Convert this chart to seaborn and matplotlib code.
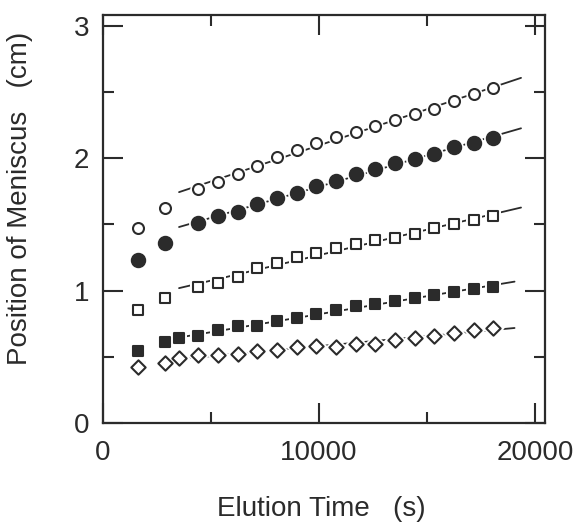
import numpy as np
import pandas as pd
import matplotlib
matplotlib.use("Agg")
import matplotlib.pyplot as plt
from matplotlib.ticker import MultipleLocator
import seaborn as sns

# Elution times (s)
t_early = [1620, 2870]
t_mid = [3520]
t_regular = [4420, 5330, 6240, 7150, 8060, 8970, 9880, 10790,
             11700, 12610, 13520, 14430, 15340, 16250, 17160, 18070]

# Meniscus position (cm) for each run
open_circle = [1.47, 1.62, 1.77, 1.82, 1.88, 1.94, 2.01, 2.06, 2.11,
               2.16, 2.20, 2.24, 2.29, 2.33, 2.37, 2.43, 2.48, 2.53]
filled_circle = [1.23, 1.36, 1.51, 1.56, 1.59, 1.65, 1.70, 1.74, 1.79,
                 1.83, 1.88, 1.92, 1.96, 1.99, 2.03, 2.08, 2.11, 2.15]
open_square = [0.85, 0.94, 1.03, 1.06, 1.10, 1.17, 1.21, 1.25, 1.28,
               1.32, 1.35, 1.38, 1.40, 1.43, 1.47, 1.50, 1.53, 1.56]
filled_square = [0.54, 0.61, 0.64, 0.66, 0.70, 0.73, 0.73, 0.77, 0.79, 0.82,
                 0.85, 0.88, 0.90, 0.92, 0.94, 0.97, 0.99, 1.01, 1.03]
open_diamond = [0.42, 0.45, 0.49, 0.51, 0.51, 0.52, 0.54, 0.55, 0.57, 0.58,
                0.57, 0.60, 0.60, 0.63, 0.64, 0.66, 0.68, 0.70, 0.72]

x_ticks = [0, 10000, 20000]
y_ticks = [0, 1, 2, 3]

INK = "#2b2b2b"

sns.set_theme(style="ticks")
plt.rcParams["font.family"] = ["Liberation Sans", "DejaVu Sans"]
plt.rcParams["text.color"] = INK
plt.rcParams["axes.labelcolor"] = INK

fig = plt.figure(figsize=(5.77, 5.27), dpi=100)
ax = fig.add_axes([103 / 577, 1 - 423 / 527, 442 / 577, 408 / 527])

# (times, values, marker, size in pt, face, fit start, fit end)
series = [
    (t_early + t_regular, open_circle, "o", 7.9, "white", 3520, 19350),
    (t_early + t_regular, filled_circle, "o", 9.6, INK, 3520, 19350),
    (t_early + t_regular, open_square, "s", 7.6, "white", 3520, 19350),
    (t_early + t_mid + t_regular, filled_square, "s", 7.6, INK, 3520, 19050),
    (t_early + t_mid + t_regular, open_diamond, "D", 7.3, "white", 3520, 19050),
]

for times, vals, mk, ms, face, x0, x1 in series:
    df = pd.DataFrame({"t": times, "y": vals})
    # least-squares line through the points from the third hour onward
    fit_df = df[df["t"] >= 3500]
    slope, icpt = np.polyfit(fit_df["t"], fit_df["y"], 1)
    line = pd.DataFrame({"t": [x0, x1]})
    line["y"] = icpt + slope * line["t"]
    sns.lineplot(data=line, x="t", y="y", ax=ax, color=INK, lw=1.3,
                 zorder=2, legend=False)
    # white halo under each marker so the line shows only as short bits
    sns.scatterplot(data=df, x="t", y="y", ax=ax, marker=mk,
                    s=(ms + 4.0) ** 2, color="white", edgecolor="white",
                    linewidth=0, zorder=3, legend=False)
    sns.scatterplot(data=df, x="t", y="y", ax=ax, marker=mk, s=ms ** 2,
                    facecolor=face, edgecolor=INK, linewidth=1.5,
                    zorder=4, legend=False)

ax.set_xlim(0, 20460)
ax.set_ylim(0, 3.08)
ax.set_xticks(x_ticks)
ax.set_yticks(y_ticks)
ax.set_xticklabels([str(v) for v in x_ticks])
ax.set_yticklabels([str(v) for v in y_ticks])
ax.xaxis.set_minor_locator(MultipleLocator(5000))
ax.yaxis.set_minor_locator(MultipleLocator(0.5))

ax.tick_params(which="both", direction="in", top=True, right=True,
               color=INK, width=1.5, labelcolor=INK, labelsize=20)
ax.tick_params(which="major", length=14.5, pad=10)
ax.tick_params(which="minor", length=8)
ax.tick_params(axis="x", which="major", pad=12)

for sp in ax.spines.values():
    sp.set_linewidth(1.6)
    sp.set_color(INK)

ax.set_xlabel("Elution Time   (s)", fontsize=20)
ax.set_ylabel("Position of Meniscus   (cm)", fontsize=20)
ax.xaxis.set_label_coords(0.494, -0.178)
ax.yaxis.set_label_coords(-0.158, 0.550)

fig.savefig("out.png", dpi=100)
